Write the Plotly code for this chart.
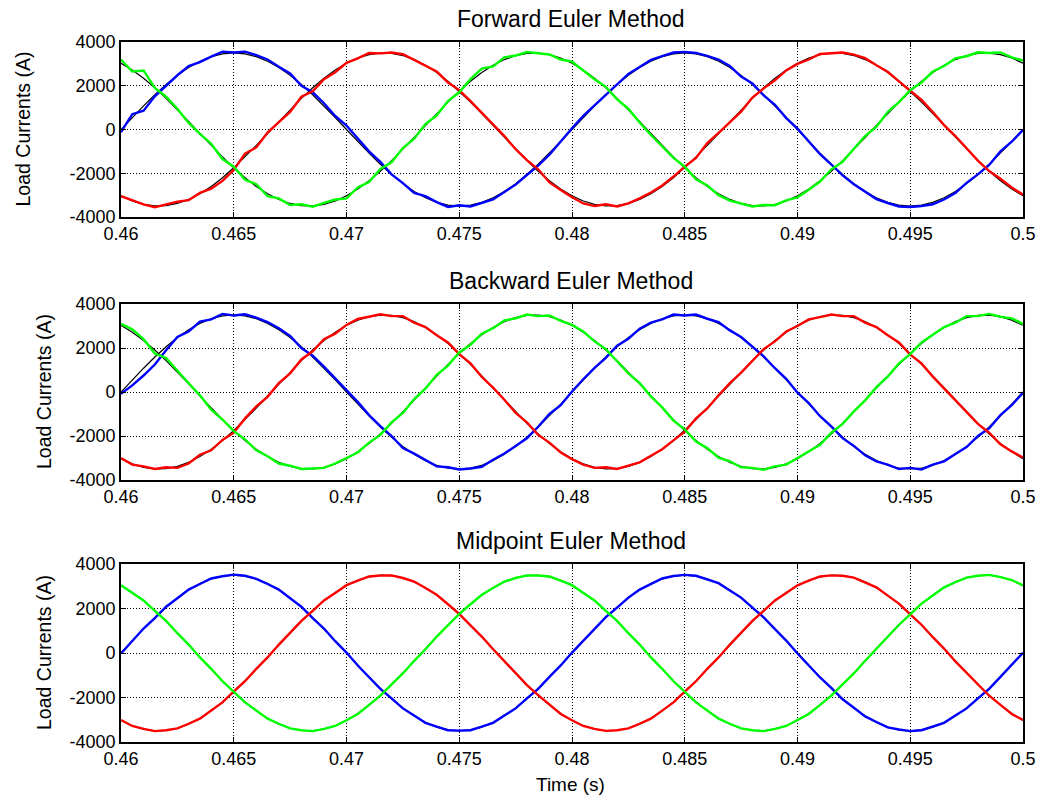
import numpy as np
import plotly.graph_objects as go
from plotly.subplots import make_subplots

# Sampling grid: 0.46 s to 0.5 s in 0.5 ms steps (81 samples)
TIME_S = np.linspace(0.46, 0.5, 81)

X_TICKS = [0.46, 0.465, 0.47, 0.475, 0.48, 0.485, 0.49, 0.495, 0.5]
X_TICK_LABELS = ["0.46", "0.465", "0.47", "0.475", "0.48", "0.485", "0.49", "0.495", "0.5"]
Y_TICKS = [-4000, -2000, 0, 2000, 4000]
Y_TICK_LABELS = ["-4000", "-2000", "0", "2000", "4000"]

TITLES = ["Forward Euler Method", "Backward Euler Method", "Midpoint Euler Method"]

# Reference (ideal) phase currents, A
REF_A = [0, 548, 1082, 1589, 2057, 2475, 2832, 3119, 3329, 3457,
         3500, 3457, 3329, 3119, 2832, 2475, 2057, 1589, 1082, 548,
         0, -548, -1082, -1589, -2057, -2475, -2832, -3119, -3329, -3457,
         -3500, -3457, -3329, -3119, -2832, -2475, -2057, -1589, -1082, -548,
         0, 548, 1082, 1589, 2057, 2475, 2832, 3119, 3329, 3457,
         3500, 3457, 3329, 3119, 2832, 2475, 2057, 1589, 1082, 548,
         0, -548, -1082, -1589, -2057, -2475, -2832, -3119, -3329, -3457,
         -3500, -3457, -3329, -3119, -2832, -2475, -2057, -1589, -1082, -548,
         0]
REF_B = [-3031, -3268, -3424, -3495, -3481, -3381, -3197, -2935, -2601, -2203,
         -1750, -1254, -728, -183, 366, 906, 1424, 1906, 2342, 2720,
         3031, 3268, 3424, 3495, 3481, 3381, 3197, 2935, 2601, 2203,
         1750, 1254, 728, 183, -366, -906, -1424, -1906, -2342, -2720,
         -3031, -3268, -3424, -3495, -3481, -3381, -3197, -2935, -2601, -2203,
         -1750, -1254, -728, -183, 366, 906, 1424, 1906, 2342, 2720,
         3031, 3268, 3424, 3495, 3481, 3381, 3197, 2935, 2601, 2203,
         1750, 1254, 728, 183, -366, -906, -1424, -1906, -2342, -2720,
         -3031]
REF_C = [3031, 2720, 2342, 1906, 1424, 906, 366, -183, -728, -1254,
         -1750, -2203, -2601, -2935, -3197, -3381, -3481, -3495, -3424, -3268,
         -3031, -2720, -2342, -1906, -1424, -906, -366, 183, 728, 1254,
         1750, 2203, 2601, 2935, 3197, 3381, 3481, 3495, 3424, 3268,
         3031, 2720, 2342, 1906, 1424, 906, 366, -183, -728, -1254,
         -1750, -2203, -2601, -2935, -3197, -3381, -3481, -3495, -3424, -3268,
         -3031, -2720, -2342, -1906, -1424, -906, -366, 183, 728, 1254,
         1750, 2203, 2601, 2935, 3197, 3381, 3481, 3495, 3424, 3268,
         3031]

# Forward Euler load currents, A
FWD_A = [-120, 700, 860, 1520, 2000, 2480, 2900, 3080, 3330, 3560,
         3520, 3560, 3400, 3200, 2870, 2560, 2000, 1700, 1200, 620,
         180, -420, -1000, -1480, -2050, -2450, -2900, -3050, -3320, -3540,
         -3460, -3520, -3360, -3200, -2860, -2520, -2080, -1650, -1150, -520,
         60, 620, 1100, 1620, 2080, 2540, 2860, 3180, 3350, 3520,
         3550, 3500, 3370, 3200, 2900, 2420, 2100, 1560, 1130, 520,
         40, -520, -1130, -1600, -2100, -2500, -2860, -3180, -3360, -3520,
         -3540, -3500, -3420, -3200, -2900, -2440, -2050, -1620, -1000, -560,
         -20]
FWD_B = [-3050, -3250, -3420, -3550, -3420, -3300, -3230, -2900, -2700, -2350,
         -1850, -1100, -820, -140, 340, 800, 1500, 1750, 2300, 2620,
         3050, 3250, 3500, 3480, 3520, 3440, 3180, 2900, 2650, 2150,
         1800, 1300, 760, 220, -300, -900, -1400, -1820, -2420, -2760,
         -3100, -3380, -3500, -3420, -3520, -3380, -3150, -2880, -2560, -2150,
         -1700, -1300, -620, -150, 350, 820, 1460, 1880, 2250, 2700,
         3000, 3200, 3450, 3500, 3520, 3420, 3260, 2940, 2640, 2200,
         1770, 1350, 800, 200, -300, -860, -1420, -1900, -2250, -2650,
         -2980]
FWD_C = [3200, 2650, 2700, 1900, 1500, 950, 300, -200, -650, -1350,
         -1700, -2300, -2500, -3050, -3150, -3450, -3420, -3530, -3350, -3200,
         -3150, -2650, -2400, -1800, -1500, -850, -420, 250, 650, 1300,
         1700, 2300, 2780, 2880, 3300, 3380, 3540, 3480, 3430, 3200,
         3100, 2700, 2300, 1950, 1380, 950, 320, -250, -760, -1300,
         -1700, -2280, -2560, -3000, -3250, -3380, -3520, -3450, -3460, -3240,
         -3100, -2750, -2380, -1820, -1480, -880, -300, 130, 800, 1250,
         1800, 2150, 2650, 2900, 3250, 3350, 3530, 3500, 3520, 3300,
         3150]

# Backward Euler load currents, A
BWD_A = [-80, 300, 750, 1250, 1900, 2500, 2750, 3200, 3300, 3550,
         3480, 3530, 3380, 3180, 2900, 2550, 2000, 1650, 1150, 600,
         80, -450, -1050, -1550, -2000, -2550, -2800, -3100, -3380, -3420,
         -3520, -3480, -3400, -3080, -2800, -2450, -2100, -1580, -1000, -600,
         20, 580, 1100, 1550, 2100, 2420, 2880, 3150, 3300, 3520,
         3480, 3520, 3330, 3180, 2800, 2500, 2050, 1620, 1080, 600,
         -30, -500, -1100, -1560, -2100, -2450, -2880, -3150, -3300, -3500,
         -3450, -3520, -3300, -3150, -2820, -2500, -2000, -1650, -1050, -600,
         -30]
BWD_B = [-3000, -3300, -3380, -3500, -3420, -3450, -3250, -2850, -2650, -2180,
         -1850, -1200, -650, -220, 400, 850, 1480, 1850, 2400, 2650,
         3050, 3320, 3420, 3530, 3450, 3450, 3150, 2950, 2580, 2250,
         1720, 1300, 680, 200, -350, -950, -1380, -1950, -2300, -2750,
         -3050, -3300, -3450, -3420, -3500, -3350, -3200, -2900, -2600, -2200,
         -1800, -1200, -750, -150, 400, 880, 1400, 1950, 2300, 2750,
         3000, 3300, 3400, 3520, 3450, 3450, 3150, 2950, 2580, 2250,
         1700, 1300, 700, 150, -380, -900, -1450, -1850, -2380, -2700,
         -2980]
BWD_C = [3100, 2850, 2400, 1750, 1550, 950, 400, -150, -800, -1250,
         -1780, -2150, -2650, -2920, -3250, -3350, -3500, -3480, -3450, -3250,
         -3000, -2750, -2300, -1950, -1380, -950, -320, 150, 780, 1200,
         1800, 2150, 2650, 2900, 3250, 3350, 3520, 3450, 3480, 3230,
         3050, 2750, 2300, 1950, 1400, 850, 400, -200, -700, -1300,
         -1700, -2250, -2550, -2980, -3150, -3420, -3450, -3530, -3380, -3300,
         -3000, -2700, -2400, -1850, -1450, -880, -380, 220, 700, 1300,
         1720, 2250, 2580, 2950, 3150, 3450, 3450, 3550, 3420, 3350,
         3100]

# Midpoint Euler load currents, A
MID_A = [-20, 560, 1100, 1570, 2080, 2460, 2850, 3100, 3350, 3450,
         3520, 3470, 3330, 3100, 2850, 2460, 2080, 1570, 1100, 530,
         20, -560, -1070, -1610, -2040, -2490, -2810, -3140, -3310, -3470,
         -3490, -3470, -3310, -3140, -2810, -2490, -2040, -1610, -1070, -560,
         20, 560, 1070, 1610, 2040, 2490, 2850, 3100, 3350, 3460,
         3510, 3470, 3320, 3140, 2810, 2490, 2040, 1600, 1070, 560,
         -20, -560, -1100, -1570, -2080, -2460, -2850, -3100, -3340, -3440,
         -3510, -3470, -3310, -3140, -2810, -2490, -2040, -1610, -1070, -530,
         10]
MID_B = [-3010, -3280, -3410, -3510, -3470, -3390, -3180, -2950, -2580, -2220,
         -1730, -1270, -710, -200, 380, 890, 1440, 1890, 2360, 2700,
         3050, 3250, 3440, 3480, 3490, 3370, 3210, 2920, 2620, 2190,
         1760, 1240, 740, 170, -380, -890, -1440, -1890, -2330, -2740,
         -3020, -3280, -3410, -3500, -3470, -3390, -3180, -2950, -2590, -2220,
         -1740, -1270, -710, -200, 380, 890, 1440, 1890, 2360, 2700,
         3040, 3250, 3440, 3490, 3470, 3390, 3180, 2950, 2580, 2220,
         1740, 1270, 710, 200, -380, -890, -1410, -1920, -2330, -2740,
         -3010]
MID_C = [3040, 2700, 2360, 1890, 1440, 890, 380, -200, -710, -1270,
         -1740, -2220, -2580, -2950, -3180, -3390, -3470, -3510, -3410, -3280,
         -3020, -2740, -2330, -1920, -1410, -920, -350, 170, 740, 1240,
         1760, 2190, 2620, 2920, 3210, 3370, 3490, 3480, 3440, 3250,
         3050, 2700, 2360, 1890, 1440, 890, 380, -200, -710, -1270,
         -1740, -2220, -2580, -2950, -3180, -3390, -3470, -3510, -3410, -3280,
         -3010, -2740, -2330, -1920, -1410, -920, -350, 200, 710, 1270,
         1740, 2220, 2580, 2950, 3180, 3390, 3470, 3510, 3410, 3280,
         3040]

PANELS = [(FWD_A, FWD_B, FWD_C), (BWD_A, BWD_B, BWD_C), (MID_A, MID_B, MID_C)]
PHASE_COLORS = ["#0000ff", "#ff0000", "#00ff00"]

FONT = "Arial, Liberation Sans, Helvetica, sans-serif"
W, H = 1042, 800
PLOT_LEFT, PLOT_RIGHT = 121, 1023
# vertical pixel extents of each panel (top, bottom)
PANEL_PX = [(42, 217), (304, 480), (564, 742)]
YLABEL_X_PX = [22, 44, 44]

fig = make_subplots(rows=3, cols=1)

for row, phases in enumerate(PANELS, start=1):
    for ref in (REF_A, REF_B, REF_C):
        fig.add_trace(go.Scatter(x=TIME_S, y=ref, mode="lines",
                                 line=dict(color="black", width=1.2),
                                 showlegend=False, hoverinfo="skip"),
                      row=row, col=1)
    for vals, col in zip(phases, PHASE_COLORS):
        fig.add_trace(go.Scatter(x=TIME_S, y=vals, mode="lines",
                                 line=dict(color=col, width=2.4),
                                 showlegend=False),
                      row=row, col=1)

axis_common = dict(
    showline=True, linecolor="black", linewidth=1.6, mirror="ticks",
    ticks="inside", ticklen=5, tickwidth=1, tickcolor="black",
    showgrid=True, gridcolor="black", gridwidth=1, griddash="1px,2px",
    zeroline=False,
    tickfont=dict(family=FONT, size=18, color="black"),
)

annotations = []
for i, (top, bot) in enumerate(PANEL_PX):
    n = "" if i == 0 else str(i + 1)
    fig.layout["xaxis" + n].update(
        domain=[0, 1], range=[0.46, 0.5], tickmode="array",
        tickvals=X_TICKS, ticktext=X_TICK_LABELS, **axis_common)
    fig.layout["yaxis" + n].update(
        domain=[1 - bot / H, 1 - top / H], range=[-4000, 4000], tickmode="array",
        tickvals=Y_TICKS, ticktext=Y_TICK_LABELS, **axis_common)
    annotations.append(dict(
        text=TITLES[i], xref="paper", yref="paper",
        x=(571 - PLOT_LEFT) / (PLOT_RIGHT - PLOT_LEFT), y=1 - (top - 23) / H,
        xanchor="center", yanchor="middle",
        showarrow=False, font=dict(family=FONT, size=23, color="black")))
    annotations.append(dict(
        text="Load Currents (A)", xref="paper", yref="paper", textangle=-90,
        x=(YLABEL_X_PX[i] - PLOT_LEFT) / (PLOT_RIGHT - PLOT_LEFT),
        y=1 - (top + bot) / 2 / H, xanchor="center", yanchor="middle",
        showarrow=False, font=dict(family=FONT, size=19.5, color="black")))

annotations.append(dict(
    text="Time (s)", xref="paper", yref="paper",
    x=(570 - PLOT_LEFT) / (PLOT_RIGHT - PLOT_LEFT), y=1 - 784 / H,
    xanchor="center", yanchor="middle", showarrow=False,
    font=dict(family=FONT, size=19, color="black")))

fig.update_layout(
    width=W, height=H,
    margin=dict(l=PLOT_LEFT, r=W - PLOT_RIGHT, t=0, b=0, autoexpand=False),
    paper_bgcolor="white", plot_bgcolor="white",
    annotations=annotations,
    font=dict(family=FONT, color="black"),
)

fig.write_html("out.html")
